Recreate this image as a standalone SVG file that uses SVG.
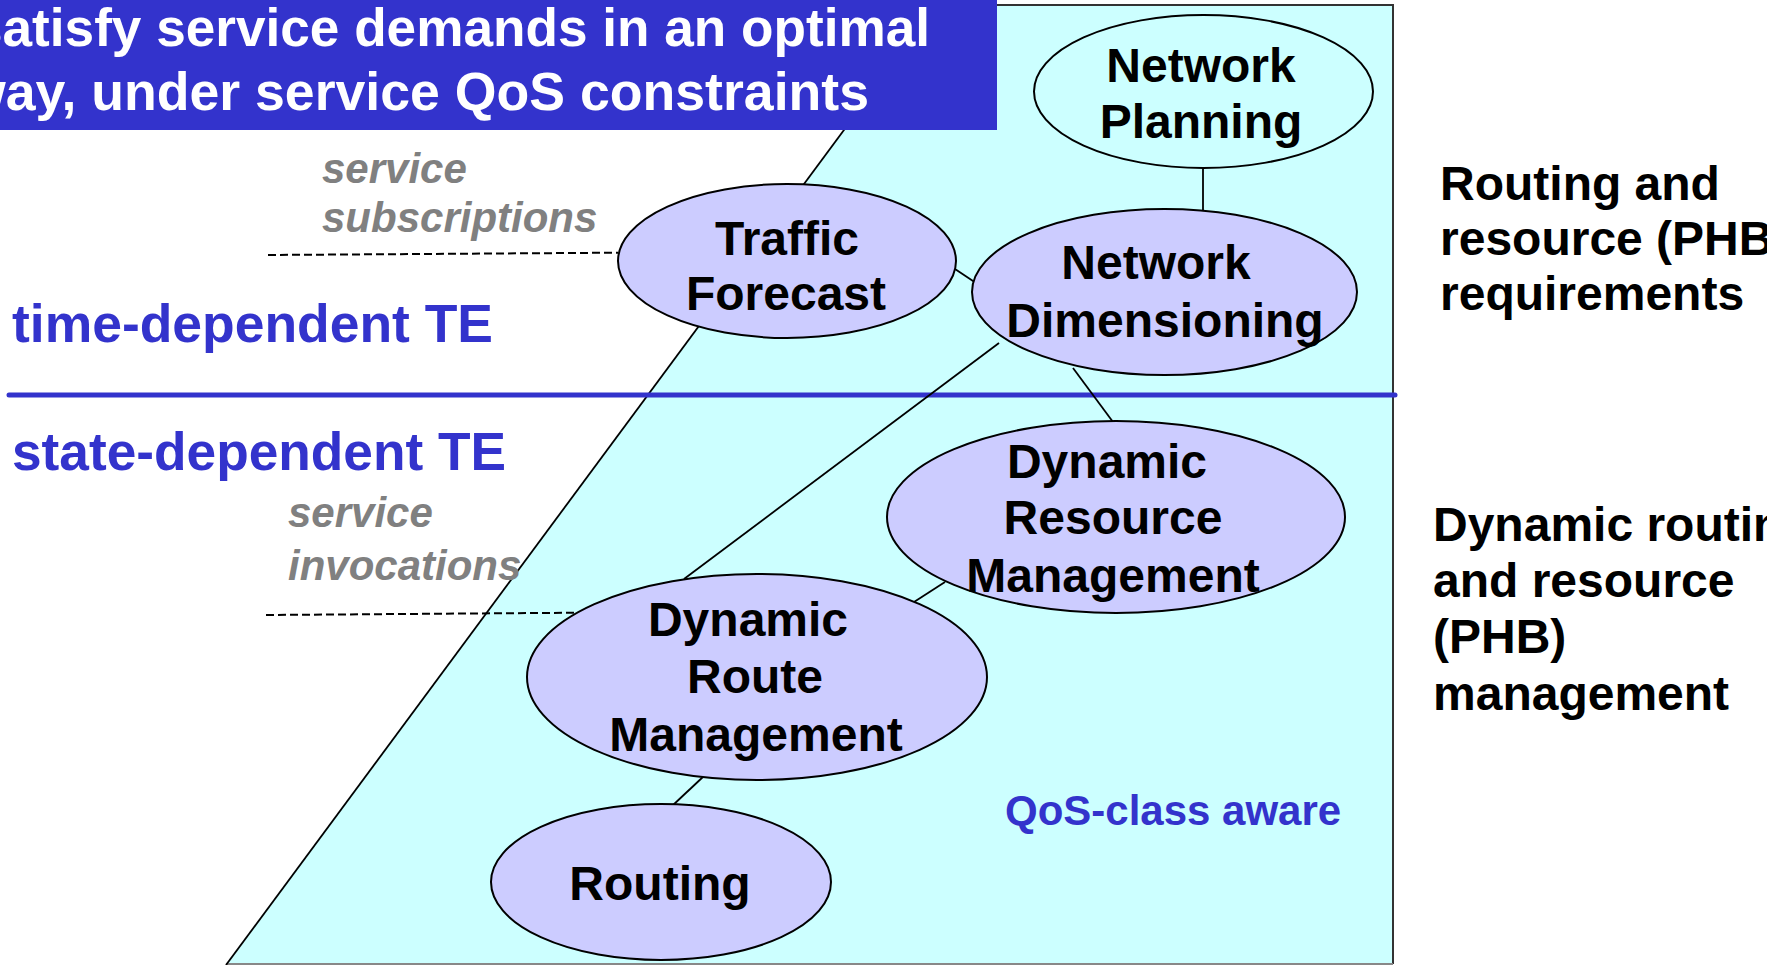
<svg xmlns="http://www.w3.org/2000/svg" width="1767" height="965" viewBox="0 0 1767 965">
  <style>
    .node { stroke: #000000; stroke-width: 2; }
    .plain { fill: #CCFFFF; }
    .lav { fill: #CCCCFF; }
    .nt { font-family: "Liberation Sans", Arial, sans-serif; font-weight: bold; font-size: 48px; fill: #000000; text-anchor: middle; }
    .conn { stroke: #000000; stroke-width: 1.8; fill: none; }
    .dash { stroke: #000000; stroke-width: 2; stroke-dasharray: 8 4; fill: none; }
    .side { font-family: "Liberation Sans", Arial, sans-serif; font-weight: bold; font-size: 48px; fill: #000000; }
    .blue { font-family: "Liberation Sans", Arial, sans-serif; font-weight: bold; fill: #3333CC; }
    .grey { font-family: "Liberation Sans", Arial, sans-serif; font-weight: bold; font-style: italic; font-size: 42px; fill: #808080; }
    .banner { font-family: "Liberation Sans", Arial, sans-serif; font-weight: bold; font-size: 54px; fill: #FFFFFF; }
  </style>
  <rect x="0" y="0" width="1767" height="965" fill="#FFFFFF"/>
  <g id="region">
    <polygon points="936.5,5 1393,5 1393,964 226,964" fill="#CCFFFF" stroke="none"/>
    <polyline points="936.5,5 1393,5 1393,964" fill="none" stroke="#333333" stroke-width="2"/>
    <line x1="226" y1="964" x2="1393" y2="964" stroke="#888888" stroke-width="2"/>
    <line x1="936.5" y1="5" x2="226" y2="965" stroke="#000000" stroke-width="1.8"/>
  </g>
  <g id="banner">
    <rect x="0" y="0" width="997" height="130" fill="#3333CC"/>
    <text class="banner" x="-27" y="46" textLength="957" lengthAdjust="spacingAndGlyphs">satisfy service demands in an optimal</text>
    <text class="banner" x="-36" y="110" textLength="905" lengthAdjust="spacingAndGlyphs">way, under service QoS constraints</text>
  </g>
  <g id="divider">
    <line x1="9" y1="395" x2="1395" y2="395" stroke="#3333CC" stroke-width="5" stroke-linecap="round"/>
  </g>
  <g id="labels">
    <text class="blue" x="12" y="342" font-size="53" textLength="481" lengthAdjust="spacingAndGlyphs">time-dependent TE</text>
    <text class="blue" x="12" y="470" font-size="53" textLength="494" lengthAdjust="spacingAndGlyphs">state-dependent TE</text>
    <text class="grey" x="322" y="183">service</text>
    <text class="grey" x="322" y="232">subscriptions</text>
    <text class="grey" x="288" y="527">service</text>
    <text class="grey" x="288" y="580">invocations</text>
    <text class="blue" x="1005" y="825" font-size="42">QoS-class aware</text>
    <text class="side" x="1440" y="200">Routing and</text>
    <text class="side" x="1440" y="255">resource (PHB)</text>
    <text class="side" x="1440" y="310">requirements</text>
    <text class="side" x="1433" y="541">Dynamic routing</text>
    <text class="side" x="1433" y="597">and resource</text>
    <text class="side" x="1433" y="653">(PHB)</text>
    <text class="side" x="1433" y="710">management</text>
  </g>
  <g id="connectors">
    <line class="dash" x1="268" y1="255" x2="618" y2="252.7"/>
    <line class="dash" x1="266" y1="615" x2="578" y2="612.7"/>
    <line class="conn" x1="1203" y1="168" x2="1203" y2="211"/>
    <line class="conn" x1="955" y1="269" x2="976" y2="283"/>
    <line class="conn" x1="999" y1="343" x2="684" y2="579"/>
    <line class="conn" x1="1073" y1="368" x2="1113" y2="422"/>
    <line class="conn" x1="945" y1="582" x2="914" y2="602"/>
    <line class="conn" x1="704" y1="776" x2="672" y2="806"/>
  </g>
  <g id="network-planning">
    <ellipse class="node plain" cx="1203.5" cy="91.5" rx="169.5" ry="76.5"/>
    <text class="nt" x="1201" y="82">Network</text>
    <text class="nt" x="1201" y="138">Planning</text>
  </g>
  <g id="traffic-forecast">
    <ellipse class="node lav" cx="787" cy="261" rx="169" ry="77"/>
    <text class="nt" x="787" y="255">Traffic</text>
    <text class="nt" x="786" y="310">Forecast</text>
  </g>
  <g id="network-dimensioning">
    <ellipse class="node lav" cx="1164.5" cy="292" rx="192.5" ry="83"/>
    <text class="nt" x="1156" y="279">Network</text>
    <text class="nt" x="1165" y="337">Dimensioning</text>
  </g>
  <g id="dynamic-resource-management">
    <ellipse class="node lav" cx="1116" cy="517" rx="229" ry="96"/>
    <text class="nt" x="1107" y="478">Dynamic</text>
    <text class="nt" x="1113" y="534">Resource</text>
    <text class="nt" x="1113" y="592">Management</text>
  </g>
  <g id="dynamic-route-management">
    <ellipse class="node lav" cx="757" cy="677" rx="230" ry="103"/>
    <text class="nt" x="748" y="636">Dynamic</text>
    <text class="nt" x="755" y="693">Route</text>
    <text class="nt" x="756" y="751">Management</text>
  </g>
  <g id="routing">
    <ellipse class="node lav" cx="661" cy="882" rx="170" ry="78"/>
    <text class="nt" x="660" y="900">Routing</text>
  </g>
</svg>
